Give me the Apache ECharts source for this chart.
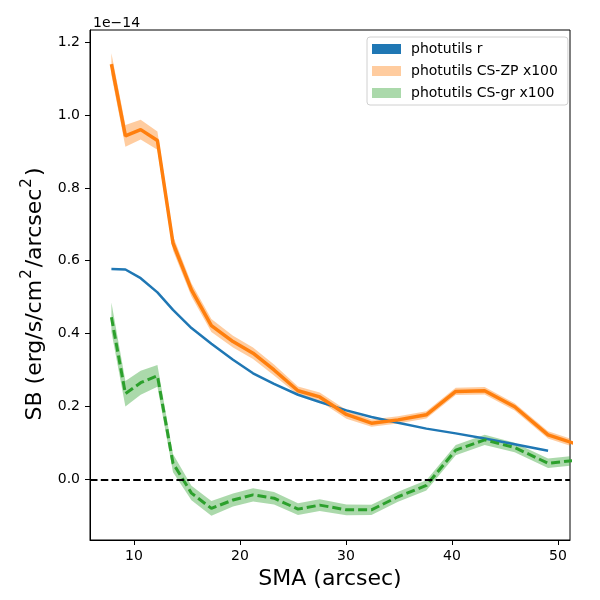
<!DOCTYPE html>
<html>
<head>
<meta charset="utf-8">
<script src="https://cdn.jsdelivr.net/npm/echarts@6/dist/echarts.min.js"></script>
<title>SB profile</title>
<style>html,body{margin:0;padding:0;background:#fff;}</style>
</head>
<body>
<div id="container" style="width:600px;height:600px;"></div>
<script>
// semi-major axis (arcsec)
var sma = [7.87, 9.19, 10.63, 12.21, 13.68, 15.42, 17.30, 19.34, 21.23, 23.21, 25.47,
           27.52, 30.04, 32.40, 34.91, 37.58, 40.35, 43.08, 45.91, 49.06, 52.40];
// surface brightness, units of 1e-14
var sbR  = [0.577, 0.576, 0.552, 0.513, 0.465, 0.415, 0.372, 0.328, 0.291, 0.262, 0.232,
            0.212, 0.189, 0.171, 0.155, 0.139, 0.126, 0.112, 0.096, 0.078, null];
var sbZP = [1.140, 0.943, 0.960, 0.930, 0.648, 0.520, 0.422, 0.378, 0.346, 0.300, 0.243,
            0.226, 0.178, 0.154, 0.163, 0.177, 0.241, 0.243, 0.199, 0.122, 0.090];
var errZP = [0.030, 0.030, 0.027, 0.025, 0.020, 0.018, 0.018, 0.016, 0.016, 0.015, 0.012,
             0.012, 0.012, 0.010, 0.010, 0.010, 0.010, 0.010, 0.010, 0.010, 0.010];
var sbGR = [0.445, 0.235, 0.265, 0.284, 0.044, -0.038, -0.080, -0.057, -0.043, -0.052, -0.082,
            -0.071, -0.084, -0.084, -0.048, -0.017, 0.080, 0.108, 0.087, 0.044, 0.054];
var errGR = [0.040, 0.035, 0.033, 0.030, 0.025, 0.020, 0.020, 0.018, 0.018, 0.017, 0.016,
             0.016, 0.015, 0.014, 0.014, 0.014, 0.014, 0.014, 0.013, 0.013, 0.013];

var xTicks = [10, 20, 30, 40, 50];
var yTicks = [0.0, 0.2, 0.4, 0.6, 0.8, 1.0, 1.2];

var blue = '#1f77b4', orange = '#ff7f0e', green = '#2ca02c';
var font = 'DejaVu Sans';

function pairs(vals) {
    var out = [];
    for (var i = 0; i < sma.length; i++) {
        if (vals[i] !== null) out.push([sma[i], vals[i]]);
    }
    return out;
}

// shaded error band drawn as one polygon through the axis scales
function band(name, vals, errs, color) {
    return {
        name: name,
        type: 'custom',
        clip: true,
        silent: true,
        z: 1,
        data: [[sma[0], vals[0]]],
        renderItem: function (params, api) {
            var top = [], bot = [];
            for (var i = 0; i < sma.length; i++) {
                top.push(api.coord([sma[i], vals[i] + errs[i]]));
                bot.unshift(api.coord([sma[i], vals[i] - errs[i]]));
            }
            var cs = params.coordSys;
            return {
                type: 'polygon',
                shape: { points: top.concat(bot) },
                clipPath: { type: 'rect', shape: { x: cs.x, y: cs.y, width: cs.width, height: cs.height } },
                style: { fill: color, opacity: 0.4, stroke: null }
            };
        }
    };
}

var myChart = echarts.init(document.getElementById('container'));

var option = {
    animation: false,
    title: {
        text: '1e\u221214',
        left: 88, top: 11,
        textStyle: { fontFamily: font, fontSize: 14, fontWeight: 'normal', color: '#000' }
    },
    legend: {
        orient: 'vertical',
        left: 367, top: 37,
        padding: [5, 10, 5, 5],
        itemWidth: 29, itemHeight: 10, itemGap: 8,
        borderColor: '#d0d0d0', borderWidth: 1, borderRadius: 3,
        backgroundColor: 'rgba(255,255,255,0.8)',
        textStyle: { fontFamily: font, fontSize: 14, color: '#000', padding: [0, 0, 0, 5] },
        data: [
            { name: 'photutils r', icon: 'rect', itemStyle: { color: blue, borderWidth: 0 } },
            { name: 'photutils CS-ZP x100', icon: 'rect', itemStyle: { color: 'rgba(255,127,14,0.4)', borderWidth: 0 } },
            { name: 'photutils CS-gr x100', icon: 'rect', itemStyle: { color: 'rgba(44,160,44,0.4)', borderWidth: 0 } }
        ]
    },
    grid: {
        left: 90, right: 30, top: 30, bottom: 60,
        show: true, borderColor: '#000', borderWidth: 1, backgroundColor: '#fff'
    },
    xAxis: {
        type: 'value',
        min: 5.85, max: 51.13,
        name: 'SMA (arcsec)', nameLocation: 'middle', nameGap: 28,
        nameTextStyle: { fontFamily: font, fontSize: 22, color: '#000' },
        axisLine: { show: true, onZero: false, lineStyle: { color: '#000', width: 1 } },
        axisTick: { show: true, length: 5, lineStyle: { color: '#000' }, customValues: xTicks },
        axisLabel: { fontFamily: font, fontSize: 14, color: '#000', margin: 9, customValues: xTicks },
        splitLine: { show: false }
    },
    yAxis: {
        type: 'value',
        min: -0.1668, max: 1.2335,
        name: '{t|SB (erg/s/cm}{s|2}{t|/arcsec}{s|2}{t|)}', nameLocation: 'middle', nameGap: 40,
        nameTextStyle: {
            fontFamily: font, fontSize: 22, color: '#000', padding: [0, 18, 0, 0],
            rich: {
                t: { fontFamily: font, fontSize: 22, lineHeight: 30, color: '#000' },
                s: { fontFamily: font, fontSize: 15, lineHeight: 15, verticalAlign: 'top', color: '#000', padding: [0, 2, 0, 1] }
            }
        },
        axisLine: { show: true, onZero: false, lineStyle: { color: '#000', width: 1 } },
        axisTick: { show: true, length: 5, lineStyle: { color: '#000' }, customValues: yTicks },
        axisLabel: {
            fontFamily: font, fontSize: 14, color: '#000', margin: 10, customValues: yTicks,
            formatter: function (v) { return v.toFixed(1); }
        },
        splitLine: { show: false }
    },
    series: [
        {
            name: 'photutils r', type: 'line', data: pairs(sbR),
            showSymbol: false, symbol: 'none', z: 3,
            lineStyle: { color: blue, width: 2.5 }, itemStyle: { color: blue }
        },
        band('photutils CS-ZP x100', sbZP, errZP, orange),
        {
            name: 'zp line', type: 'line', data: pairs(sbZP),
            showSymbol: false, symbol: 'none', z: 3,
            lineStyle: { color: orange, width: 3.5 }, itemStyle: { color: orange }
        },
        band('photutils CS-gr x100', sbGR, errGR, green),
        {
            name: 'gr line', type: 'line', data: pairs(sbGR),
            showSymbol: false, symbol: 'none', z: 3,
            lineStyle: { color: green, width: 3, type: [9, 4] }, itemStyle: { color: green },
            markLine: {
                silent: true, symbol: ['none', 'none'],
                label: { show: false },
                lineStyle: { color: '#000', width: 2, type: [7.5, 3.3] },
                data: [{ yAxis: 0 }]
            }
        }
    ]
};

myChart.setOption(option);
</script>
</body>
</html>
